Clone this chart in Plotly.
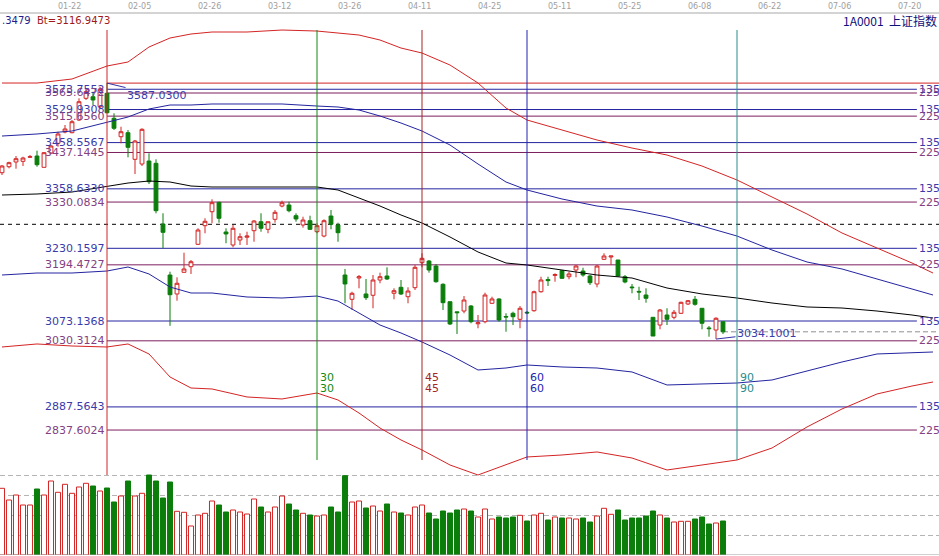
import plotly.graph_objects as go

# ---------------- data ----------------
date_labels = ["01-08", "01-22", "02-05", "02-26", "03-12", "03-26", "04-11",
               "04-25", "05-11", "05-25", "06-08", "06-22", "07-06", "07-20"]

opens = [3393.5, 3406.4, 3416.6, 3418.1, 3426.9, 3429.5, 3405.1, 3436.0, 3457.0, 3481.4,
         3479.9, 3507.3, 3554.2, 3557.6, 3536.0, 3565.0, 3511.0, 3471.2, 3479.9, 3422.4,
         3412.3, 3418.7, 3413.8, 3282.7, 3172.5, 3131.5, 3178.3, 3190.4, 3238.8, 3279.0,
         3309.2, 3329.5, 3265.4, 3237.3, 3248.1, 3254.1, 3268.2, 3287.6, 3271.2, 3292.8,
         3321.5, 3323.7, 3300.6, 3280.5, 3289.8, 3266.0, 3256.7, 3299.9, 3280.5, 3172.5,
         3120.0, 3166.0, 3131.5, 3128.7, 3161.7, 3170.3, 3133.0, 3145.9, 3125.6, 3145.1,
         3199.1, 3202.7, 3191.9, 3152.4, 3114.8, 3092.9, 3094.7, 3105.5, 3067.1, 3071.6,
         3111.4, 3120.7, 3082.9, 3089.8, 3076.8, 3091.9, 3095.4, 3136.4, 3162.8, 3171.6,
         3181.8, 3168.8, 3183.3, 3181.1, 3170.3, 3153.1, 3206.4, 3211.4, 3204.9, 3168.8,
         3146.6, 3137.1, 3129.3, 3081.1, 3064.5, 3086.1, 3081.1, 3089.8, 3109.9, 3120.0,
         3100.6, 3058.1, 3053.7, 3071.6]
highs = [3410.1, 3417.2, 3429.5, 3428.0, 3431.7, 3441.0, 3438.2, 3453.3, 3482.0, 3496.5,
         3507.3, 3554.2, 3576.4, 3568.4, 3579.2, 3587.03, 3521.8, 3492.8, 3485.7, 3464.1,
         3489.4, 3435.4, 3422.4, 3305.8, 3179.6, 3167.5, 3220.7, 3204.9, 3273.4, 3295.0,
         3336.0, 3330.8, 3273.4, 3280.5, 3262.6, 3266.0, 3291.3, 3305.8, 3287.6, 3312.9,
         3333.0, 3330.8, 3305.8, 3298.4, 3300.6, 3284.2, 3292.8, 3312.9, 3285.5, 3185.5,
         3136.4, 3172.5, 3163.9, 3172.5, 3177.5, 3189.1, 3143.8, 3161.7, 3145.9, 3194.1,
         3219.4, 3204.9, 3196.3, 3154.6, 3114.8, 3093.2, 3127.1, 3107.7, 3086.1, 3134.3,
         3125.6, 3122.2, 3089.8, 3093.2, 3105.5, 3094.7, 3138.6, 3168.8, 3168.8, 3176.2,
         3183.3, 3179.6, 3194.1, 3188.3, 3172.5, 3194.1, 3219.4, 3213.5, 3204.9, 3172.5,
         3153.1, 3147.2, 3143.8, 3081.1, 3099.1, 3100.6, 3096.9, 3114.8, 3118.5, 3127.1,
         3100.6, 3062.3, 3081.1, 3071.6]
lows = [3388.5, 3403.0, 3402.1, 3407.9, 3425.2, 3406.4, 3405.1, 3433.9, 3449.6, 3478.6,
        3478.6, 3505.1, 3550.5, 3539.7, 3532.6, 3521.8, 3485.7, 3457.0, 3426.7, 3390.7,
        3407.9, 3369.1, 3305.8, 3230.2, 3062.7, 3117.0, 3178.3, 3174.7, 3237.3, 3262.6,
        3284.2, 3285.5, 3241.0, 3232.3, 3237.3, 3237.3, 3244.4, 3266.0, 3262.6, 3285.5,
        3318.7, 3307.9, 3287.6, 3274.7, 3269.7, 3262.6, 3253.9, 3271.2, 3244.4, 3111.4,
        3096.9, 3143.8, 3118.5, 3100.6, 3154.6, 3161.7, 3120.0, 3129.3, 3111.4, 3140.1,
        3189.1, 3177.5, 3155.9, 3096.9, 3064.5, 3045.1, 3089.8, 3068.2, 3057.4, 3068.2,
        3109.9, 3071.6, 3050.0, 3064.5, 3057.4, 3088.3, 3093.2, 3134.3, 3148.7, 3158.0,
        3163.9, 3163.2, 3167.5, 3168.8, 3150.9, 3145.9, 3204.9, 3194.1, 3168.8, 3154.6,
        3133.0, 3118.5, 3112.7, 3040.7, 3055.2, 3064.5, 3076.8, 3088.3, 3107.7, 3106.2,
        3055.2, 3039.2, 3034.10, 3045.1]
closes = [3407.9, 3415.1, 3423.7, 3425.2, 3428.0, 3410.7, 3436.7, 3451.1, 3477.1, 3487.9,
          3503.6, 3546.8, 3568.4, 3550.5, 3573.6, 3523.0, 3489.4, 3482.0, 3448.3, 3461.9,
          3487.2, 3374.0, 3311.4, 3264.7, 3129.9, 3154.6, 3185.5, 3201.2, 3269.7, 3288.5,
          3328.7, 3295.0, 3261.1, 3273.4, 3255.2, 3256.7, 3289.1, 3273.4, 3287.6, 3307.9,
          3328.7, 3311.4, 3293.5, 3291.3, 3271.2, 3279.0, 3289.8, 3282.0, 3263.9, 3153.1,
          3133.0, 3168.9, 3123.5, 3161.7, 3168.8, 3163.9, 3138.6, 3131.5, 3137.9, 3189.1,
          3208.6, 3183.3, 3158.0, 3112.7, 3066.7, 3091.1, 3118.5, 3071.6, 3069.3, 3129.3,
          3120.7, 3075.3, 3081.8, 3082.4, 3100.6, 3090.6, 3136.4, 3161.7, 3160.3, 3173.4,
          3165.4, 3174.7, 3191.9, 3172.5, 3155.9, 3191.9, 3213.5, 3213.5, 3170.3, 3157.4,
          3145.1, 3135.8, 3122.2, 3040.7, 3096.9, 3076.8, 3091.9, 3113.5, 3117.0, 3109.2,
          3068.2, 3056.6, 3079.0, 3049.8]
volumes = [66.7, 55, 60, 50, 50, 66, 60, 74, 62.7, 70.7,
           61.7, 68, 71.7, 69, 64, 67, 53, 59, 74, 59,
           61.7, 80, 74, 57, 73, 43.7, 42.7, 29, 40, 41.7,
           54, 50, 43, 45, 43, 41, 56, 48, 43, 48,
           59, 51, 45, 41.7, 40, 39, 40, 48, 43, 79.3,
           53, 54, 47, 49, 44, 51, 43, 42, 40, 48,
           50, 42, 36, 44, 42, 45, 46, 44, 38, 46,
           36, 38, 37, 38, 39.7, 34, 40, 41.7, 35, 38,
           37, 37, 36, 37, 33, 39, 46.7, 40.7, 45, 35,
           37, 37, 39, 44, 40, 37, 33, 33.7, 33.7, 36,
           38, 31, 32, 34]

# channel lines (sampled at bar positions)
band_x = [0, 5, 10, 15, 18, 21, 24, 27, 30, 35, 40, 45, 48, 51, 54, 57, 60, 64, 68, 72,
          75, 80, 85, 90, 95, 100, 105, 110, 115, 120, 125, 130, 133]
red_upper = [3587.2, 3587.2, 3595.9, 3623.9, 3632.6, 3665.0, 3684.4, 3693.1, 3697.4, 3697.4,
             3701.7, 3699.5, 3695.2, 3690.9, 3680.1, 3662.8, 3652.0, 3626.1, 3587.2, 3533.2,
             3507.3, 3485.7, 3464.1, 3446.8, 3431.7, 3407.9, 3377.7, 3341.0, 3304.3, 3263.2,
             3230.8, 3198.4, 3176.8]
blue_upper = [3472.7, 3477.1, 3483.5, 3503.0, 3513.8, 3531.1, 3539.7, 3539.7, 3541.9, 3541.9,
              3541.9, 3537.5, 3535.4, 3528.9, 3515.9, 3500.8, 3483.5, 3453.3, 3412.3, 3373.4,
              3356.1, 3336.7, 3321.5, 3312.9, 3297.8, 3278.3, 3256.7, 3226.5, 3200.6, 3185.5,
              3163.9, 3142.3, 3129.3]
mid_line = [3345.3, 3347.5, 3351.8, 3364.7, 3371.2, 3375.5, 3373.4, 3364.7, 3362.6, 3362.6,
            3362.6, 3362.6, 3356.1, 3338.8, 3321.5, 3302.1, 3284.8, 3254.6, 3222.2, 3198.4,
            3194.1, 3183.3, 3172.5, 3166.0, 3144.4, 3131.5, 3122.8, 3112.0, 3103.4, 3101.2,
            3094.7, 3086.1, 3079.6]
blue_lower = [3172.5, 3176.8, 3176.8, 3181.1, 3189.8, 3174.7, 3146.6, 3133.6, 3133.6, 3125.0,
              3122.8, 3127.1, 3116.3, 3090.4, 3064.5, 3047.2, 3027.8, 2999.7, 2967.3, 2971.6,
              2978.1, 2973.8, 2971.6, 2963.0, 2934.9, 2937.1, 2939.2, 2945.7, 2965.1, 2984.6,
              3001.9, 3004.0, 3006.2]
red_lower = [3017.0, 3023.5, 3019.1, 3017.0, 3023.5, 3001.9, 2952.2, 2928.4, 2926.3, 2909.0,
             2904.7, 2917.6, 2902.5, 2874.4, 2842.0, 2816.1, 2794.5, 2762.1, 2740.5, 2762.1,
             2779.4, 2783.7, 2790.2, 2777.2, 2751.3, 2762.1, 2772.9, 2798.8, 2844.2, 2883.1,
             2915.5, 2932.7, 2941.4]

# price levels
levels_135 = [3573.7552, 3529.9308, 3458.5567, 3358.6330, 3230.1597, 3073.1368, 2887.5643]
levels_225 = [3565.6472, 3515.6560, 3437.1445, 3330.0834, 3194.4727, 3030.3124, 2837.6024]
high_value = 3587.03
low_value = 3034.1001
ref_dash_level = 3282.0
start_bar = 15
low_bar = 102
cycles = [30, 45, 60, 90]
cycle_colors = ["#138a13", "#a52525", "#2323b4", "#2b8c8c"]

header_a = ".3479"
header_b = "Bt=3116.9473"
title_right = "1A0001  上证指数"

# ---------------- figure ----------------
W, H = 939, 556
bars = list(range(len(opens)))
RED = "#d42424"
GREEN = "#0b7d0b"
BLUE_L = "#2424a0"
PURP_L = "#7d1f5e"
BLUE_T = "#3a3aaa"
PURP_T = "#823f82"

def py(px):  # paper y from pixel
    return (H - px) / H

fig = go.Figure()

# channel lines
for vals, col in [(red_upper, RED), (blue_upper, BLUE_L), (mid_line, "#000000"),
                  (blue_lower, BLUE_L), (red_lower, RED)]:
    fig.add_trace(go.Scatter(x=band_x, y=vals, mode="lines",
                             line=dict(color=col, width=1), hoverinfo="skip",
                             showlegend=False))

fig.add_trace(go.Candlestick(
    x=bars, open=opens, high=highs, low=lows, close=closes,
    increasing=dict(line=dict(color=RED, width=1), fillcolor="white"),
    decreasing=dict(line=dict(color=GREEN, width=1), fillcolor=GREEN),
    whiskerwidth=0, showlegend=False))

vol_fill = ["white" if c >= o else GREEN for o, c in zip(opens, closes)]
vol_line = [RED if c >= o else GREEN for o, c in zip(opens, closes)]
fig.add_trace(go.Bar(x=bars, y=volumes, yaxis="y2", width=0.72,
                     marker=dict(color=vol_fill, line=dict(color=vol_line, width=1)),
                     showlegend=False))

shapes = []
annotations = []
x_end_levels = 130.7
x_left = -2 / 7
x_right = (W - 2) / 7

# level lines + labels
for vals, lcol, tcol, tag in [(levels_135, BLUE_L, BLUE_T, "135"),
                              (levels_225, PURP_L, PURP_T, "225")]:
    for v in vals:
        shapes.append(dict(type="line", xref="x", yref="y", x0=start_bar, x1=x_end_levels,
                           y0=v, y1=v, line=dict(color=lcol, width=1), layer="below"))
        annotations.append(dict(xref="x", yref="y", x=start_bar, y=v, text=f"{v:.4f}",
                                xanchor="right", yanchor="middle", showarrow=False,
                                font=dict(size=11, color=tcol)))
        annotations.append(dict(xref="x", yref="y", x=x_end_levels, y=v, text=tag,
                                xanchor="left", yanchor="middle", showarrow=False,
                                font=dict(size=11, color=tcol)))

# high line
shapes.append(dict(type="line", xref="x", yref="y", x0=start_bar, x1=x_right,
                   y0=high_value, y1=high_value, line=dict(color=RED, width=1), layer="below"))
# reference dashed line
shapes.append(dict(type="line", xref="paper", yref="y", x0=0, x1=1,
                   y0=ref_dash_level, y1=ref_dash_level,
                   line=dict(color="#000000", width=1, dash="4px,4px"), layer="below"))
# last close dashed
shapes.append(dict(type="line", xref="x", yref="y", x0=len(opens) - 1, x1=x_right,
                   y0=closes[-1], y1=closes[-1],
                   line=dict(color="#909090", width=1, dash="5px,3px"), layer="below"))

# start + cycle vertical lines
shapes.append(dict(type="line", xref="x", yref="paper", x0=start_bar, x1=start_bar,
                   y0=py(475), y1=py(30), line=dict(color=RED, width=1)))
for c, col in zip(cycles, cycle_colors):
    xc = start_bar + c
    shapes.append(dict(type="line", xref="x", yref="paper", x0=xc, x1=xc,
                       y0=py(460), y1=py(30), line=dict(color=col, width=1)))
    for ypx in (377, 388):
        annotations.append(dict(xref="x", yref="paper", x=xc, y=py(ypx), text=str(c),
                                xanchor="left", yanchor="middle", xshift=1, showarrow=False,
                                font=dict(size=11, color=col)))

# high/low pointers
annotations.append(dict(xref="x", yref="y", x=start_bar, y=high_value, text="3587.0300",
                        showarrow=True, arrowhead=0, arrowwidth=1, arrowcolor="#3030a8",
                        ax=50, ay=12, font=dict(size=11, color=BLUE_T)))
annotations.append(dict(xref="x", yref="y", x=low_bar, y=low_value, text=f"{low_value:.4f}",
                        showarrow=True, arrowhead=0, arrowwidth=1, arrowcolor="#3030a8",
                        ax=51, ay=-6, font=dict(size=11, color=BLUE_T)))

# top date strip
for k, lab in enumerate(date_labels):
    annotations.append(dict(xref="x", yref="paper", x=10 * k - 0.4, y=py(6.5), text=lab,
                            xanchor="center", yanchor="middle", showarrow=False,
                            font=dict(size=8, color="#a0a0a0")))
shapes.append(dict(type="line", xref="paper", yref="paper", x0=0, x1=1, y0=py(13), y1=py(13),
                   line=dict(color="#a8a8a8", width=1)))

# header texts
annotations.append(dict(xref="paper", yref="paper", x=0, y=py(20), text=header_a,
                        xanchor="left", yanchor="middle", showarrow=False,
                        font=dict(size=10, color="#1e1e8c")))
annotations.append(dict(xref="paper", yref="paper", x=35 / W, y=py(20), text=header_b,
                        xanchor="left", yanchor="middle", showarrow=False,
                        font=dict(size=10, color="#a01818")))
annotations.append(dict(xref="paper", yref="paper", x=1, y=py(20), text=title_right,
                        xanchor="right", yanchor="middle", showarrow=False,
                        font=dict(size=12, color="#10107a", family="Noto Sans CJK SC")))

# volume base line
shapes.append(dict(type="line", xref="paper", yref="y2", x0=0, x1=1, y0=0, y1=0,
                   line=dict(color="#a0a0a0", width=1)))

fig.update_layout(
    width=W, height=H, autosize=False,
    margin=dict(l=0, r=0, t=0, b=0, pad=0),
    paper_bgcolor="white", plot_bgcolor="rgba(0,0,0,0)",
    font=dict(family="DejaVu Sans", size=11),
    showlegend=False, boxgap=0.22, bargap=0.28, hovermode=False,
    xaxis=dict(range=[x_left, x_right], visible=False, rangeslider=dict(visible=False),
               fixedrange=True),
    yaxis=dict(domain=[0, (H - 14) / H], range=[2565.5, 3736.3], visible=False,
               fixedrange=True),
    yaxis2=dict(domain=[1 / H, 101 / H], range=[0, 100], showticklabels=False,
                showgrid=True, gridcolor="#b4b4b4", griddash="5px,3px",
                tickvals=[20, 40, 60, 80], zeroline=False, showline=False, ticks="",
                fixedrange=True),
    shapes=shapes, annotations=annotations,
)

fig.write_html("out.html",
               config={"displayModeBar": False, "staticPlot": True},
               post_script="document.body.style.margin='0';"
                           "document.body.style.overflow='hidden';")
